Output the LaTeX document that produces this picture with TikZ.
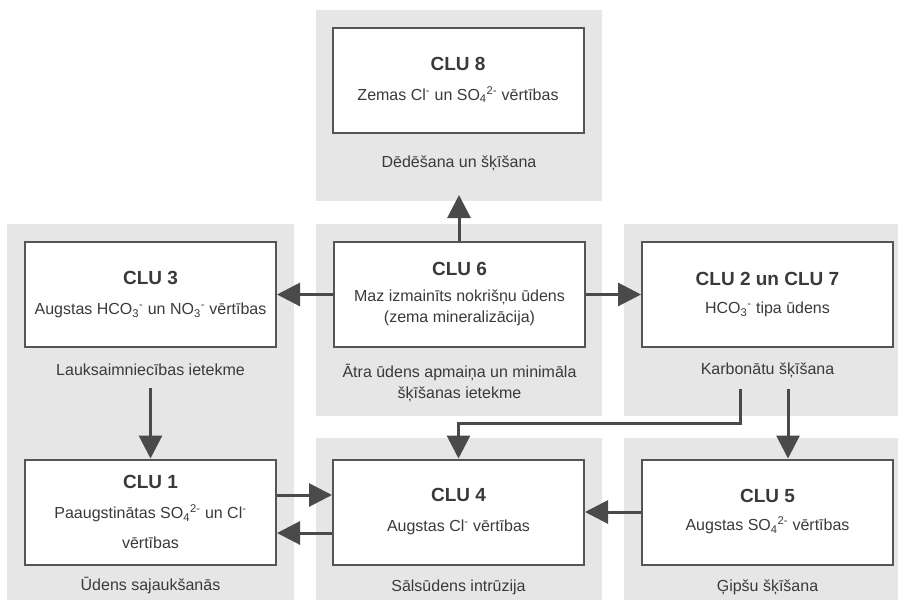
\documentclass[tikz,border=0pt]{standalone}
\usepackage{fontspec}
\setmainfont{Liberation Sans}
\usetikzlibrary{arrows.meta,calc}
\definecolor{panelgray}{HTML}{E6E6E6}
\definecolor{boxline}{HTML}{555555}
\definecolor{inkdark}{HTML}{3A3A3A}
\definecolor{arrowgray}{HTML}{4A4A4A}
\tikzset{
  panel/.style={fill=panelgray, draw=none},
  clubox/.style={draw=boxline, line width=2pt, fill=white,
    minimum width=251pt, minimum height=105pt, inner sep=0pt,
    align=center, text=inkdark,
    font=\fontsize{16}{21}\selectfont},
  caption/.style={text=inkdark, align=center,
    font=\fontsize{16}{21}\selectfont},
  flow/.style={draw=arrowgray, line width=3pt,
    -{Triangle[length=23pt,width=23pt]}},
}
\newcommand{\clutitle}[1]{{\fontsize{19}{22}\selectfont\bfseries #1}}
\begin{document}
\begin{tikzpicture}[x=1pt,y=-1pt]
  \useasboundingbox (0,0) rectangle (904,600);

  % background panels
  \fill[panel] (316,10)  rectangle (602,201);
  \fill[panel] (7,224)   rectangle (294,600);
  \fill[panel] (316,224) rectangle (602,416);
  \fill[panel] (624,224) rectangle (898,416);
  \fill[panel] (316,438) rectangle (602,600);
  \fill[panel] (624,438) rectangle (898,600);

  % cluster boxes
  \node[clubox] (c8)  at (458,80)     {\clutitle{CLU 8}\\[9pt]Zemas Cl\textsuperscript{-} un SO\textsubscript{4}\textsuperscript{2-} vērtības};
  \node[clubox] (c3)  at (150.5,294.5) {\clutitle{CLU 3}\\[9pt]Augstas HCO\textsubscript{3}\textsuperscript{-} un NO\textsubscript{3}\textsuperscript{-} vērtības};
  \node[clubox] (c6)  at (459.5,294.5) {\clutitle{CLU 6}\\[5pt]Maz izmainīts nokrišņu ūdens\\(zema mineralizācija)};
  \node[clubox] (c27) at (767.5,294.5) {\clutitle{CLU 2 un CLU 7}\\[7pt]HCO\textsubscript{3}\textsuperscript{-} tipa ūdens};
  \node[clubox] (c1)  at (150.5,512)  {\clutitle{CLU 1}\\[9pt]Paaugstinātas SO\textsubscript{4}\textsuperscript{2-} un Cl\textsuperscript{-}\\[9pt]vērtības};
  \node[clubox] (c4)  at (458.5,512)  {\clutitle{CLU 4}\\[9pt]Augstas Cl\textsuperscript{-} vērtības};
  \node[clubox] (c5)  at (767.5,512)  {\clutitle{CLU 5}\\[7pt]Augstas SO\textsubscript{4}\textsuperscript{2-} vērtības};

  % process captions
  \node[caption] (t8)  at (459,163)   {Dēdēšana un šķīšana};
  \node[caption] (t3)  at (150.5,370) {Lauksaimniecības ietekme};
  \node[caption] (t6)  at (459.5,383) {Ātra ūdens apmaiņa un minimāla\\šķīšanas ietekme};
  \node[caption] (t27) at (767.5,370) {Karbonātu šķīšana};
  \node[caption] (t1)  at (150.5,586) {Ūdens sajaukšanās};
  \node[caption] (t4)  at (458.5,587) {Sālsūdens intrūzija};
  \node[caption] (t5)  at (767.5,587) {Ģipšu šķīšana};

  % connector end points
  \coordinate (up8)   at (459,195);
  \coordinate (s3)    at (150.5,388);
  \coordinate (sA)    at (740,389);
  \coordinate (bendA) at (740,423);
  \coordinate (sB)    at (788,389);

  % connectors
  \draw[flow] (c6.north -| up8) -- (up8);
  \draw[flow] (c6.west) -- (c3.east);
  \draw[flow] (c6.east) -- (c27.west);
  \draw[flow] (s3) -- (c1.north);
  \draw[flow] ($(c1.east)+(0,-17)$) -- ($(c4.west)+(0,-17)$);
  \draw[flow] ($(c4.west)+(0,21)$) -- ($(c1.east)+(0,21)$);
  \draw[flow] (c5.west) -- (c4.east);
  \draw[flow] (sA) -- (bendA) -- (bendA -| c4.north) -- (c4.north);
  \draw[flow] (sB) -- (sB |- c5.north);
\end{tikzpicture}
\end{document}
